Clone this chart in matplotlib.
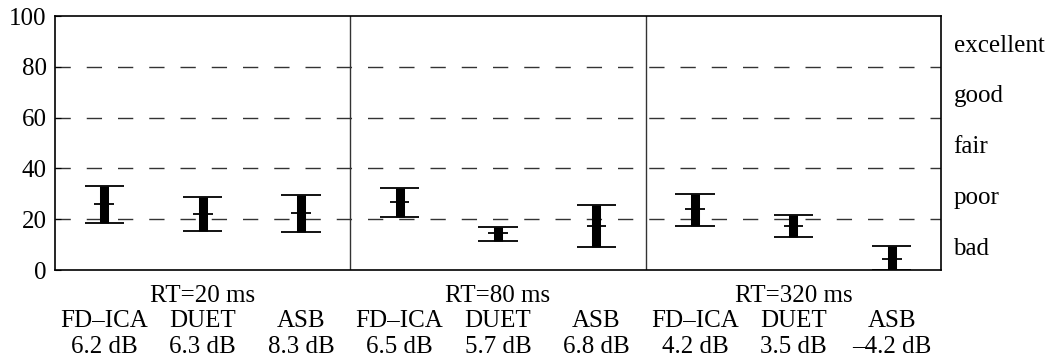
import matplotlib.pyplot as plt
import numpy as np

plt.rcParams['font.family'] = ['Liberation Serif', 'DejaVu Serif']
plt.rcParams['font.size'] = 18

rt_labels = ['RT=20 ms', 'RT=80 ms', 'RT=320 ms']
methods = ['FD–ICA', 'DUET', 'ASB']
snr_labels = ['6.2 dB', '6.3 dB', '8.3 dB',
              '6.5 dB', '5.7 dB', '6.8 dB',
              '4.2 dB', '3.5 dB', '–4.2 dB']
means = [25.9, 22.0, 22.3, 26.6, 14.4, 17.3, 23.9, 17.3, 4.3]
lows = [18.4, 15.2, 14.8, 21.0, 11.3, 9.2, 17.4, 13.0, 0.0]
highs = [33.2, 28.6, 29.6, 32.3, 17.0, 25.5, 30.0, 21.5, 9.3]
quality = ['bad', 'poor', 'fair', 'good', 'excellent']
quality_pos = [10, 30, 50, 70, 90]

x = np.arange(len(means)) + 0.5

fig = plt.figure(figsize=(10.52, 3.58), dpi=100)
ax = fig.add_axes([0.0523, 0.2458, 0.8422, 0.7095])

# dashed quality grid and group separators
for y in [20, 40, 60, 80]:
    ax.axhline(y, color='#333333', lw=1, dashes=(11, 11.5), zorder=1)
for xs in [3, 6]:
    ax.axvline(xs, color='#333333', lw=1, zorder=1)

ax.vlines(x, lows, highs, color='black', lw=6.5, zorder=3)
ax.hlines(lows, x - 0.2, x + 0.2, color='black', lw=1.3, zorder=3)
ax.hlines(highs, x - 0.2, x + 0.2, color='black', lw=1.3, zorder=3)
ax.hlines(means, x - 0.1, x + 0.1, color='black', lw=1.3, zorder=3)

ax.set_xlim(0, 9)
ax.set_ylim(0, 100)
ax.set_yticks([0, 20, 40, 60, 80, 100])
ax.set_xticks([])
ax.tick_params(axis='y', direction='in', length=4, pad=6)
for s in ax.spines.values():
    s.set_linewidth(1.2)

for i, lab in enumerate(rt_labels):
    ax.annotate(lab, xy=(3 * i + 1.5, 0), xycoords=('data', 'axes fraction'),
                xytext=(0, -18.5), textcoords='offset points',
                ha='center', va='center')
for i, xi in enumerate(x):
    ax.annotate(methods[i % 3], xy=(xi, 0), xycoords=('data', 'axes fraction'),
                xytext=(0, -37), textcoords='offset points',
                ha='center', va='center')
    ax.annotate(snr_labels[i], xy=(xi, 0), xycoords=('data', 'axes fraction'),
                xytext=(0, -55.5), textcoords='offset points',
                ha='center', va='center')

for q, yq in zip(quality, quality_pos):
    ax.annotate(q, xy=(1, yq), xycoords=('axes fraction', 'data'),
                xytext=(9, -3), textcoords='offset points',
                ha='left', va='center')

fig.savefig('out.png', dpi=100)
